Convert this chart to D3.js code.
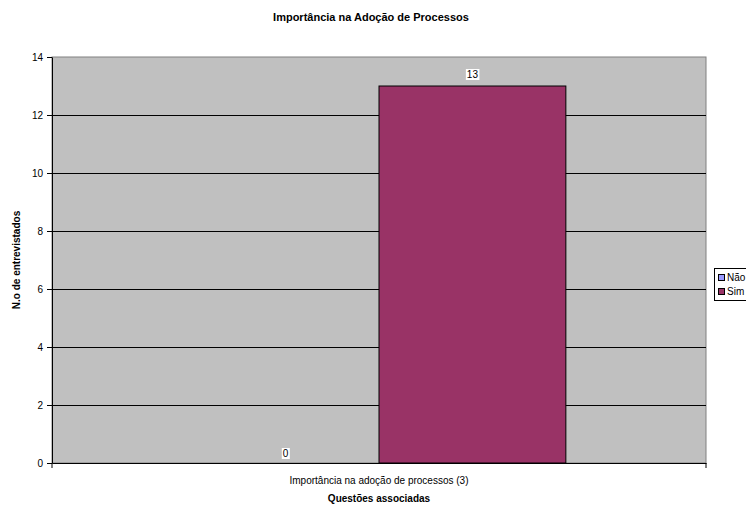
<!DOCTYPE html>
<html>
<head>
<meta charset="utf-8">
<script src="https://cdn.jsdelivr.net/npm/d3@7"></script>
<style>
  body { margin: 0; background: #fff; }
  text { font-family: "Liberation Sans", Arial, sans-serif; }
</style>
</head>
<body>
<div id="chart"></div>
<script>
// chart data
var categories = ["Importância na adoção de processos (3)"];
var seriesNames = ["Não", "Sim"];
var seriesColors = ["#9999ff", "#993366"];
var values = [[0], [13]];   // values[series][category]
var yTicks = [0, 2, 4, 6, 8, 10, 12, 14];

var margin = {top: 57, right: 40, bottom: 43, left: 52};
var width = 706 - margin.left;
var height = 463 - margin.top;

var svg = d3.select("#chart")
    .append("svg")
    .attr("width", 746)
    .attr("height", 506);

svg.append("text")
    .attr("x", 371).attr("y", 21)
    .attr("text-anchor", "middle")
    .style("font-size", "11px").style("font-weight", "bold")
    .text("Importância na Adoção de Processos");

var g = svg.append("g")
    .attr("transform", "translate(" + margin.left + "," + margin.top + ")");

var x = d3.scaleBand().domain(categories).range([0, width]).paddingInner(0).paddingOuter(0);
// gap width 150% between groups: bar width = band / (2 + 1.5)
var xs = d3.scaleBand().domain(seriesNames)
    .range([0, x.bandwidth()])
    .paddingInner(0).paddingOuter(0.75);
var y = d3.scaleLinear().domain([0, 14]).range([height, 0]);

// plot background
g.append("rect")
    .attr("width", width).attr("height", height)
    .attr("fill", "#c0c0c0")
    .attr("stroke", "#808080").attr("stroke-width", 1);

// gridlines
g.selectAll(".grid")
    .data(yTicks.filter(function(d) { return d > 0 && d < 14; }))
    .enter().append("line")
    .attr("x1", 0).attr("x2", width)
    .attr("y1", function(d) { return Math.round(y(d)) + 0.5; })
    .attr("y2", function(d) { return Math.round(y(d)) + 0.5; })
    .attr("stroke", "#000").attr("stroke-width", 1);

// bars
var rows = [];
seriesNames.forEach(function(s, i) {
    categories.forEach(function(c, j) {
        rows.push({series: s, cat: c, value: values[i][j], color: seriesColors[i]});
    });
});

g.selectAll(".bar")
    .data(rows.filter(function(d) { return d.value > 0; }))
    .enter().append("rect")
    .attr("x", function(d) { return x(d.cat) + xs(d.series); })
    .attr("y", function(d) { return y(d.value); })
    .attr("width", xs.bandwidth())
    .attr("height", function(d) { return height - y(d.value); })
    .attr("fill", function(d) { return d.color; })
    .attr("stroke", "#000").attr("stroke-width", 1);

// value labels
rows.forEach(function(d) {
    var cx = x(d.cat) + xs(d.series) + xs.bandwidth() / 2;
    var cy = y(d.value) - (d.value > 0 ? 8 : 6);
    var t = g.append("text")
        .attr("x", cx).attr("y", cy)
        .attr("text-anchor", "middle")
        .style("font-size", "10px")
        .text(d.value);
    var bb = t.node().getBBox();
    g.insert("rect", function() { return t.node(); })
        .attr("x", bb.x - 1).attr("y", bb.y)
        .attr("width", bb.width + 2).attr("height", bb.height)
        .attr("fill", "#fff");
});

// axes
var yAxis = g.append("g")
    .call(d3.axisLeft(y).tickValues(yTicks).tickSize(5).tickSizeOuter(0));
yAxis.select(".domain").attr("stroke", "#000");
yAxis.selectAll("text").style("font-size", "10px").attr("x", -9);

var xAxis = g.append("g")
    .attr("transform", "translate(0," + height + ")")
    .call(d3.axisBottom(x).tickSize(0).tickSizeOuter(0));
xAxis.select(".domain").attr("stroke", "#000");
xAxis.selectAll("text").style("font-size", "10px").attr("dy", "1.75em");
// outer ticks at category edges
g.selectAll(".xedge")
    .data([0, width])
    .enter().append("line")
    .attr("x1", function(d) { return d; }).attr("x2", function(d) { return d; })
    .attr("y1", height).attr("y2", height + 5)
    .attr("stroke", "#000");

// axis titles
svg.append("text")
    .attr("x", margin.left + width / 2).attr("y", 502)
    .attr("text-anchor", "middle")
    .style("font-size", "10px").style("font-weight", "bold")
    .text("Questões associadas");

svg.append("text")
    .attr("transform", "translate(20," + (margin.top + height / 2) + ") rotate(-90)")
    .attr("text-anchor", "middle")
    .style("font-size", "10px").style("font-weight", "bold")
    .text("N.o de entrevistados");

// legend
var legend = svg.append("g").attr("transform", "translate(714,268)");
legend.append("rect")
    .attr("x", 0.5).attr("y", 0.5)
    .attr("width", 60).attr("height", 32)
    .attr("fill", "#fff").attr("stroke", "#000");
seriesNames.forEach(function(s, i) {
    legend.append("rect")
        .attr("x", 4.5).attr("y", 6.5 + i * 14)
        .attr("width", 6).attr("height", 6)
        .attr("fill", seriesColors[i]).attr("stroke", "#000");
    legend.append("text")
        .attr("x", 13).attr("y", 13 + i * 14)
        .style("font-size", "10px")
        .text(s);
});
</script>
</body>
</html>
